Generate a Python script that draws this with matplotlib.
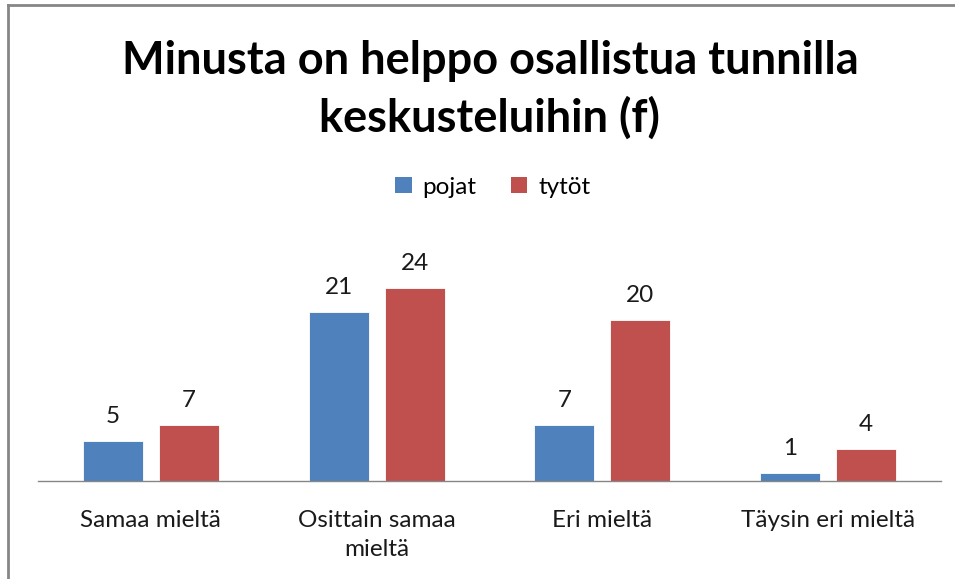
import numpy as np
import matplotlib.pyplot as plt
from matplotlib.lines import Line2D
from matplotlib.patches import Patch

# Data
kategoriat = ['Samaa mieltä', 'Osittain samaa\nmieltä', 'Eri mieltä', 'Täysin eri mieltä']
pojat = [5, 21, 7, 1]
tytot = [7, 24, 20, 4]
sarjat = ['pojat', 'tytöt']

SININEN = '#4F81BD'
PUNAINEN = '#C0504D'
FONTTI = ['Lato', 'DejaVu Sans']

fig = plt.figure(figsize=(9.55, 5.79), dpi=100)
ax = fig.add_axes([38 / 955, 1 - 481 / 579, (941 - 38) / 955, (481 - 240) / 579])

x = np.arange(len(kategoriat))
leveys = 0.266
vali = 0.07
offset = (leveys + vali) / 2

palkit_p = ax.bar(x - offset, pojat, leveys, color=SININEN, edgecolor='white', linewidth=0.6)
palkit_t = ax.bar(x + offset, tytot, leveys, color=PUNAINEN, edgecolor='white', linewidth=0.6)

for palkit in (palkit_p, palkit_t):
    ax.bar_label(palkit, padding=10, fontsize=17.5, family=FONTTI, color='#1a1a1a')

ax.set_xlim(-0.5, len(kategoriat) - 0.5)
ax.set_ylim(0, 30)
ax.set_yticks([])
ax.set_xticks(x)
ax.set_xticklabels(kategoriat, fontsize=17.5, family=FONTTI, color='#1a1a1a', linespacing=1.45)
ax.tick_params(axis='x', length=0, pad=21)
for puoli in ['top', 'right', 'left']:
    ax.spines[puoli].set_visible(False)
ax.spines['bottom'].set_color('#868686')
ax.spines['bottom'].set_linewidth(1.0)

# Otsikko
fig.text(0.513, 1 - 90 / 579, 'Minusta on helppo osallistua tunnilla\nkeskusteluihin (f)',
         ha='center', va='center', fontsize=32.5, weight='bold', family=FONTTI,
         linespacing=1.4, color='black')

# Selite
kahvat = [Patch(facecolor=SININEN), Patch(facecolor=PUNAINEN)]
fig.legend(kahvat, sarjat, loc='center', bbox_to_anchor=(0.516, 1 - 187 / 579),
           ncol=2, frameon=False, prop={'family': FONTTI, 'size': 17.5},
           handlelength=0.68, handleheight=0.68, handletextpad=0.45, columnspacing=1.4)

# Kehys (vain ylä- ja vasen reuna näkyvät)
fig.add_artist(Line2D([8 / 955, 8 / 955], [0, 1 - 5 / 579], color='#868686', linewidth=2,
                      transform=fig.transFigure))
fig.add_artist(Line2D([8 / 955, 1], [1 - 5 / 579, 1 - 5 / 579], color='#868686', linewidth=2,
                      transform=fig.transFigure))

fig.savefig('out.png', dpi=100)
